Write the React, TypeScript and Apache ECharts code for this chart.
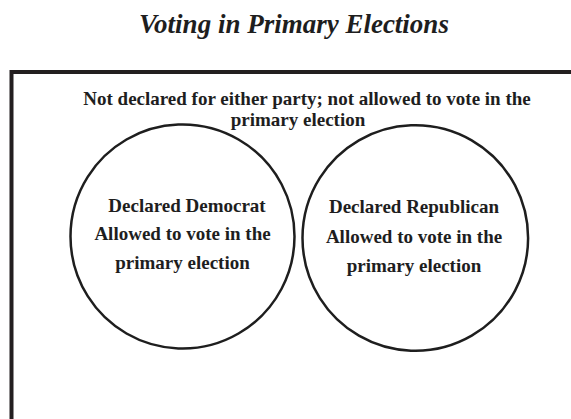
import React, { useEffect, useRef } from "react";
import * as echarts from "echarts";

const title = "Voting in Primary Elections";
const outsideLines = [
  "Not declared for either party; not allowed to vote in the",
  "primary election",
];
const democratLines = ["Declared Democrat", "Allowed to vote in the", "primary election"];
const republicanLines = ["Declared Republican", "Allowed to vote in the", "primary election"];

const FONT = "Liberation Serif";
const INK = "#1e1e1e";

function textEl(text: string, x: number, y: number, size: number, italic = false) {
  return {
    type: "text",
    x,
    y,
    style: {
      text,
      fill: INK,
      fontFamily: FONT,
      fontSize: size,
      fontWeight: "bold",
      fontStyle: italic ? "italic" : "normal",
      align: "center",
      verticalAlign: "middle",
      textAlign: "center",
      textVerticalAlign: "middle",
    },
  };
}

export default function App() {
  const ref = useRef<HTMLDivElement>(null);
  useEffect(() => {
    if (!ref.current) return;
    const chart = echarts.init(ref.current, undefined, { renderer: "svg" });
    const elements: any[] = [];
    elements.push(textEl(title, 294, 24, 27, true));
    elements.push({
      type: "rect",
      shape: { x: 11.5, y: 72, width: 640, height: 420 },
      style: { fill: "none", stroke: "#231f20", lineWidth: 4 },
    });
    elements.push({
      type: "circle",
      shape: { cx: 182.5, cy: 236.5, r: 112 },
      style: { fill: "none", stroke: INK, lineWidth: 2.5 },
    });
    elements.push({
      type: "circle",
      shape: { cx: 415.3, cy: 238, r: 112.8 },
      style: { fill: "none", stroke: INK, lineWidth: 2.5 },
    });
    elements.push(textEl(outsideLines[0], 307, 98, 19));
    elements.push(textEl(outsideLines[1], 298, 119, 19));
    const dy = [205, 233, 262];
    democratLines.forEach((t, i) => elements.push(textEl(t, i === 0 ? 187 : 182.5, dy[i], 19)));
    const ry = [206, 236, 265];
    republicanLines.forEach((t, i) => elements.push(textEl(t, 414, ry[i], 19)));
    chart.setOption({
      animation: false,
      backgroundColor: "#ffffff",
      graphic: { elements },
    });
    return () => chart.dispose();
  }, []);
  return (
    <div
      ref={ref}
      style={{ position: "fixed", left: 0, top: 0, width: 571, height: 419, background: "#fff" }}
    />
  );
}
